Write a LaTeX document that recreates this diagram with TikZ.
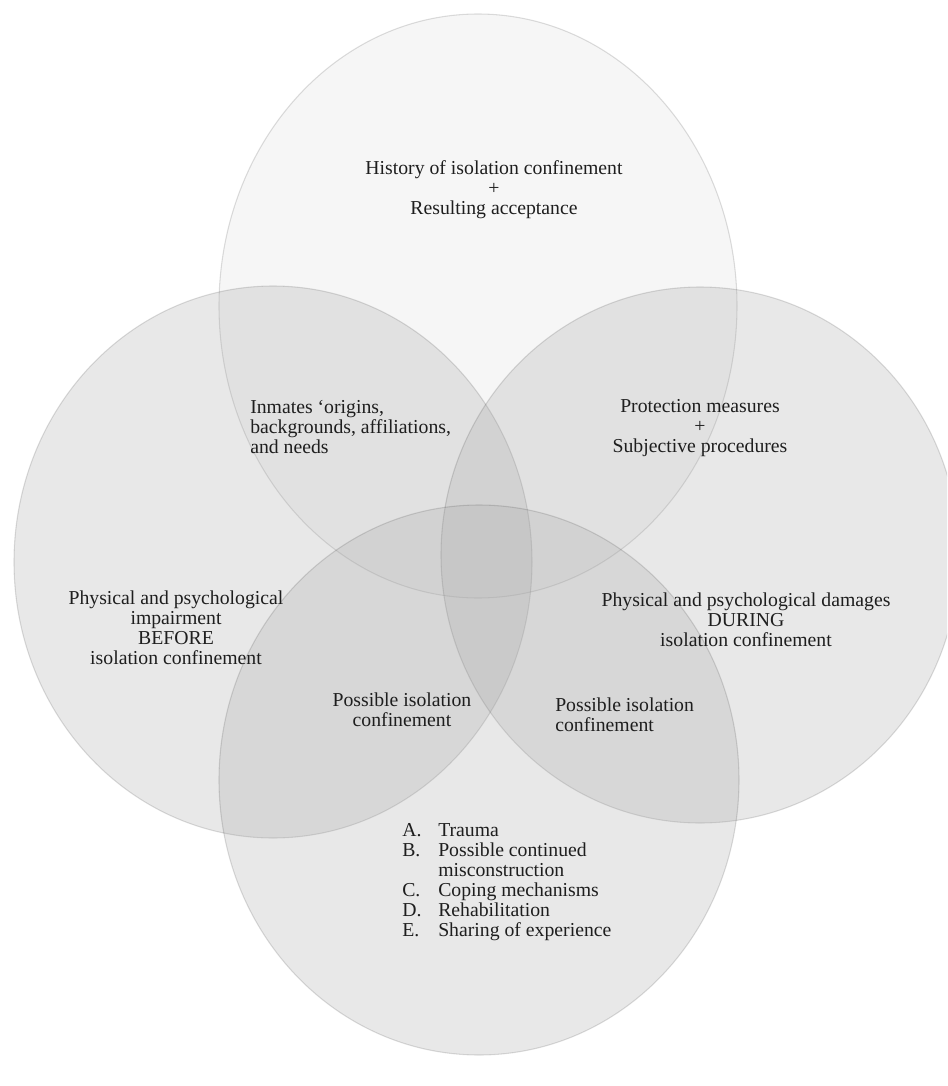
\documentclass[tikz,border=0pt]{standalone}
\usepackage{fontspec}
\setmainfont{Liberation Serif}
\definecolor{txt}{HTML}{1E1E1E}
\definecolor{vennfill}{HTML}{A8A8A8}
\begin{document}
\begin{tikzpicture}[x=0.75pt,y=-0.75pt,
  venn/.style={fill=vennfill, fill opacity=0.26, draw=black, draw opacity=0.13, line width=0.8pt},
  venntop/.style={venn, fill opacity=0.1},
  lbl/.style={inner sep=0pt, text=txt, font=\fontsize{14.8}{15}\selectfont, align=center},
  lbll/.style={lbl, align=left, anchor=west}]
\fill[white] (0,0) rectangle (947,1086);
\useasboundingbox (0,0) rectangle (947,1086);
\begin{scope}
\clip (0,0) rectangle (947,1086);
\path[venntop] (478,306) ellipse [x radius=259, y radius=292];
\path[venn] (273,562) ellipse [x radius=259, y radius=276];
\path[venn] (700,555) ellipse [x radius=259, y radius=268];
\path[venn] (479,780) ellipse [x radius=260, y radius=275];
\end{scope}
\node[lbl] (hist) at (494,190) {History of isolation confinement\\+\\Resulting acceptance};
\node[lbll] (inm) at (250,427) {Inmates ‘origins,\\backgrounds, affiliations,\\and needs};
\node[lbl] (prot) at (700,428) {Protection measures\\+\\Subjective procedures};
\node[lbl] (before) at (176,628) {Physical and psychological\\impairment\\BEFORE\\isolation confinement};
\node[lbl] (during) at (746,620) {Physical and psychological damages\\DURING\\isolation confinement};
\node[lbl] (possl) at (402,710) {Possible isolation\\confinement};
\node[lbll] (possr) at (555,715) {Possible isolation\\confinement};
\node[lbll] (list) at (402,882) {\makebox[27pt][l]{A.}Trauma\\
\makebox[27pt][l]{B.}Possible continued\\
\hspace*{27pt}misconstruction\\
\makebox[27pt][l]{C.}Coping mechanisms\\
\makebox[27pt][l]{D.}Rehabilitation\\
\makebox[27pt][l]{E.}Sharing of experience};
\end{tikzpicture}
\end{document}
